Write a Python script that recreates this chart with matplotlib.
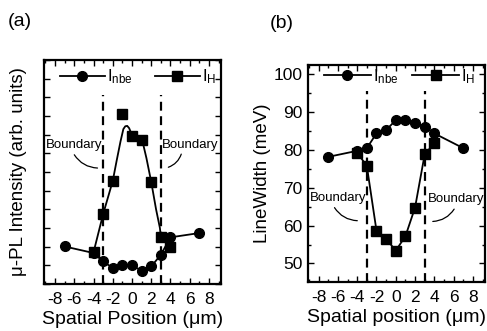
import matplotlib
matplotlib.use("Agg")
import matplotlib.pyplot as plt
from matplotlib.ticker import MultipleLocator, NullFormatter
from matplotlib.lines import Line2D

plt.rcParams['font.family'] = ['Liberation Sans', 'DejaVu Sans']
plt.rcParams['mathtext.fontset'] = 'custom'
plt.rcParams['mathtext.rm'] = 'Liberation Sans'
plt.rcParams['mathtext.it'] = 'Liberation Sans'
plt.rcParams['axes.unicode_minus'] = False

# ---- data ----
pos = [-7, -4, -3, -2, -1, 0, 1, 2, 3, 4, 7]
pos_h = [-4, -3, -2, -1, 0, 1, 2, 3, 4]

# (a) micro-PL intensity (arb. units)
a_inbe = [2.01, 1.66, 1.21, 0.86, 1.0, 1.0, 0.71, 0.94, 1.57, 2.5, 2.73]
a_ih = [1.70, 3.75, 5.53, 9.1, 7.94, 7.70, 5.46, 2.5, 1.96]
# guide curve through I_H in (a)
a_fit_x = [-4, -3, -2, -1.6, -1.2, -0.9, -0.7, -0.5, -0.3, -0.1, 0, 0.5, 1, 1.2, 1.5, 2, 2.5, 2.9, 3, 4]
a_fit_y = [1.70, 3.75, 5.53, 6.6, 7.63, 8.3, 8.45, 8.47, 8.35, 8.1, 7.94, 7.88, 7.72, 7.4, 6.74, 5.46, 4.0, 3.0, 2.5, 1.96]

# (b) linewidth (meV)
b_inbe = [78.2, 79.8, 80.5, 84.4, 85.3, 87.9, 87.9, 87.1, 86.2, 84.4, 80.5]
b_ih = [79.3, 75.8, 58.7, 56.5, 53.4, 57.2, 64.8, 78.9, 81.8]

xticks = [-8, -6, -4, -2, 0, 2, 4, 6, 8]
boundary = [-3, 3]

W, H = 487, 331
fig = plt.figure(figsize=(W / 100, H / 100), dpi=100)

axa = fig.add_axes([44 / W, 1 - 284 / H, 177 / W, 224 / H])
axb = fig.add_axes([307.5 / W, 1 - 282 / H, 177.5 / W, 217 / H])

msz = 7
lw = 1.3
for ax in (axa, axb):
    ax.set_xlim(-9.15, 9.25)
    ax.set_xticks(xticks)
    ax.xaxis.set_minor_locator(MultipleLocator(1))
    ax.tick_params(which='both', direction='in', top=True, right=True,
                   labelsize=12.5, width=1.0, pad=3.5)
    ax.tick_params(axis='x', which='both', pad=6.0)
    ax.tick_params(which='major', length=4)
    ax.tick_params(which='minor', length=2.5)
    for s in ax.spines.values():
        s.set_linewidth(1.6)

# ---- panel (a) ----
axa.set_ylim(0, 12)
axa.yaxis.set_major_locator(MultipleLocator(1))
axa.yaxis.set_major_formatter(NullFormatter())
axa.plot(pos, a_inbe, '-', color='black', lw=lw, marker='o', ms=msz)
axa.plot(a_fit_x, a_fit_y, '-', color='black', lw=lw)
axa.plot(pos_h, a_ih, 's', color='black', ms=msz)
for b in boundary:
    axa.axvline(b, ymin=0, ymax=10.1 / 12, color='black', lw=1.6, ls=(0, (4, 2.5)))
axa.set_xlabel('Spatial Position (μm)', fontsize=14, labelpad=2.5)
axa.set_ylabel('μ-PL Intensity (arb. units)', fontsize=13.5, labelpad=9)

# ---- panel (b) ----
axb.set_ylim(45.1, 102.5)
axb.set_yticks([50, 60, 70, 80, 90, 100])
axb.yaxis.set_minor_locator(MultipleLocator(5))
axb.plot(pos, b_inbe, '-', color='black', lw=lw, marker='o', ms=msz)
axb.plot(pos_h, b_ih, '-', color='black', lw=lw, marker='s', ms=msz)
for b in boundary:
    axb.axvline(b, ymin=0, ymax=(95.5 - 45.1) / (102.5 - 45.1), color='black',
                lw=1.6, ls=(0, (4, 2.5)))
axb.set_xlabel('Spatial position (μm)', fontsize=14, labelpad=2.5)
axb.set_ylabel('LineWidth (meV)', fontsize=13.5, labelpad=2)

# legends
handles = [Line2D([], [], color='black', lw=lw, marker='o', ms=msz),
           Line2D([], [], color='black', lw=lw, marker='s', ms=msz)]
labels = [r'I$_{\rm nbe}$', r'I$_{\rm H}$']
axa.legend(handles, labels, loc='upper left', bbox_to_anchor=(0.07, 0.982),
           ncol=2, frameon=False, fontsize=12, handlelength=2.7,
           handletextpad=0.15, columnspacing=1.3, borderpad=0.2,
           borderaxespad=0)
axb.legend(handles, labels, loc='upper left', bbox_to_anchor=(0.075, 1.007),
           ncol=2, frameon=False, fontsize=12, handlelength=2.8,
           handletextpad=0.15, columnspacing=0.8, borderpad=0.2,
           borderaxespad=0)

# boundary annotations
arrow = dict(arrowstyle='-', color='black', lw=0.9)
axa.text(-6.0, 7.46, 'Boundary', fontsize=9.5, ha='center', va='center')
axa.text(6.0, 7.46, 'Boundary', fontsize=9.5, ha='center', va='center')
axa.annotate('', xy=(-3.3, 6.21), xytext=(-6.15, 7.05),
             arrowprops=dict(connectionstyle='arc3,rad=0.3', **arrow))
axa.annotate('', xy=(3.5, 6.21), xytext=(5.2, 7.1),
             arrowprops=dict(connectionstyle='arc3,rad=-0.3', **arrow))

axb.text(-5.97, 67.2, 'Boundary', fontsize=9.5, ha='center', va='center')
axb.text(6.25, 67.0, 'Boundary', fontsize=9.5, ha='center', va='center', clip_on=True)
axb.annotate('', xy=(-3.7, 61.3), xytext=(-6.5, 65.4),
             arrowprops=dict(connectionstyle='arc3,rad=0.3', **arrow))
axb.annotate('', xy=(3.55, 61.1), xytext=(6.2, 65.0),
             arrowprops=dict(connectionstyle='arc3,rad=-0.3', **arrow))

fig.text(8 / W, 1 - 22 / H, '(a)', fontsize=14, va='center', ha='left')
fig.text(270 / W, 1 - 24 / H, '(b)', fontsize=14, va='center', ha='left')

fig.savefig('out.png', dpi=100)
